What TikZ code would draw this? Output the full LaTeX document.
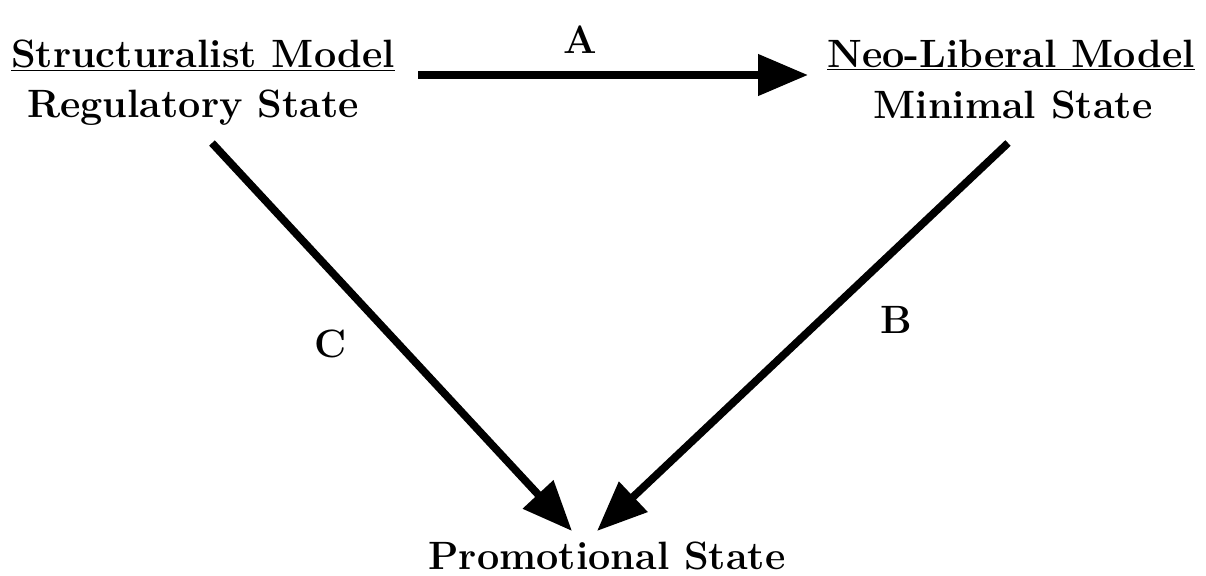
\documentclass[tikz,border=0pt]{standalone}
\usepackage{tikz}
\usetikzlibrary{arrows.meta,positioning,calc}

\tikzset{
  lbl/.style={font=\fontsize{22.5}{27}\selectfont\bfseries, inner sep=0pt, anchor=base},
  flow/.style={line width=4.4pt, -{Triangle[length=1cm, width=0.8cm]}}
}

\begin{document}
\begin{tikzpicture}[x=0.02cm, y=-0.02cm]
  \useasboundingbox (0,0) rectangle (1206,575);
  % models and states
  \node[lbl] (sm) at (203,67) {\underline{Structuralist Model}};
  \node[lbl] (rs) at (193,117) {Regulatory State};
  \node[lbl] (nm) at (1011,67) {\underline{Neo-Liberal Model}};
  \node[lbl] (ms) at (1013,118) {Minimal State};
  \node[lbl] (ps) at (607,569) {Promotional State};
  % free ends of the arrows
  \coordinate (a0) at (418,75);
  \coordinate (a1) at (808,75);
  \coordinate (c0) at (212,143);
  \coordinate (c1) at (572,531);
  \coordinate (b0) at (1008,143);
  \coordinate (b1) at (597,531);
  \draw[flow] (a0) -- (a1);
  \draw[flow] (c0) -- (c1);
  \draw[flow] (b0) -- (b1);
  \node[lbl] (la) at (580,53) {A};
  \node[lbl] (lc) at (331,357) {C};
  \node[lbl] (lb) at (896,333) {B};
\end{tikzpicture}
\end{document}
